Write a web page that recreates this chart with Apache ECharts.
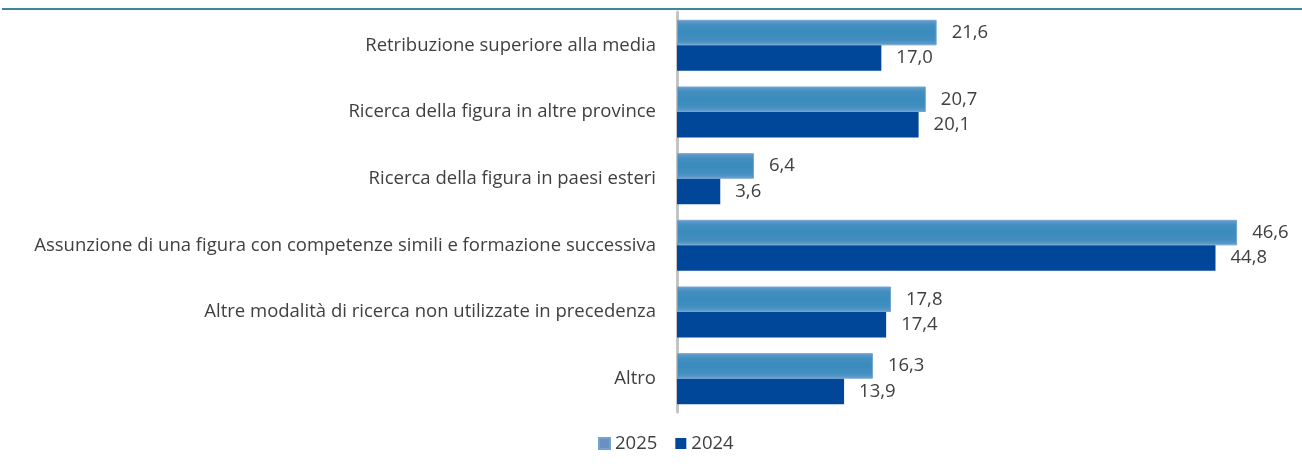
<!DOCTYPE html>
<html>
<head>
<meta charset="utf-8">
<script src="https://cdn.jsdelivr.net/npm/echarts@6/dist/echarts.min.js"></script>
<style>
  html, body { margin: 0; padding: 0; background: #ffffff; }
  #chart { width: 1302px; height: 464px; }
</style>
</head>
<body>
<div id="chart"></div>
<script>
// Modalità di ricerca del personale: quote percentuali per anno
const categories = [
  'Retribuzione superiore alla media',
  'Ricerca della figura in altre province',
  'Ricerca della figura in paesi esteri',
  'Assunzione di una figura con competenze simili e formazione successiva',
  'Altre modalità di ricerca non utilizzate in precedenza',
  'Altro'
];
const values2025 = [21.6, 20.7, 6.4, 46.6, 17.8, 16.3];
const values2024 = [17.0, 20.1, 3.6, 44.8, 17.4, 13.9];
const seriesNames = ['2025', '2024'];

const textColor = '#404040';
const fontFamily = '"Open Sans", "Noto Sans", sans-serif';
const fontSize = 18.5;

const fmt = v => v.toFixed(1).replace('.', ',');

const chart = echarts.init(document.getElementById('chart'), null, { renderer: 'canvas' });

const lightBar = new echarts.graphic.LinearGradient(0, 0, 0, 1, [
  { offset: 0, color: '#6a9fcf' },
  { offset: 0.2, color: '#428fc0' },
  { offset: 0.5, color: '#3a8bbd' },
  { offset: 0.8, color: '#428fc0' },
  { offset: 1, color: '#6a9fcf' }
]);

chart.setOption({
  animation: false,
  backgroundColor: '#ffffff',
  textStyle: { fontFamily: fontFamily },
  graphic: [{
    type: 'line',
    shape: { x1: 2, y1: 9, x2: 1302, y2: 9 },
    style: { stroke: '#3b8795', lineWidth: 2 }
  }],
  legend: {
    bottom: 6,
    left: 593,
    itemWidth: 11,
    itemHeight: 11,
    itemGap: 18,
    icon: 'rect',
    textStyle: { color: textColor, fontSize: fontSize, fontFamily: fontFamily },
    data: [
      { name: seriesNames[0], itemStyle: { color: '#6a8fc2' } },
      { name: seriesNames[1], itemStyle: { color: '#00479a' } }
    ]
  },
  grid: { left: 677, right: 24, top: 12, bottom: 52, containLabel: false },
  xAxis: {
    type: 'value',
    min: 0,
    max: 50,
    show: false
  },
  yAxis: {
    type: 'category',
    data: categories,
    inverse: true,
    offset: 2,
    axisLine: { show: true, lineStyle: { color: '#c4c4c4', width: 3 } },
    axisTick: { show: false },
    axisLabel: { color: textColor, fontSize: fontSize, margin: 19, fontFamily: fontFamily }
  },
  series: [
    {
      name: seriesNames[0],
      type: 'bar',
      data: values2025,
      barGap: '0%',
      barCategoryGap: '23.5%',
      itemStyle: { color: lightBar, borderColor: '#72a3d2', borderWidth: 1 },
      label: {
        show: true, position: 'right', distance: 15,
        color: textColor, fontSize: fontSize, fontFamily: fontFamily,
        formatter: p => fmt(p.value)
      }
    },
    {
      name: seriesNames[1],
      type: 'bar',
      data: values2024,
      barGap: '0%',
      barCategoryGap: '23.5%',
      itemStyle: { color: '#00479a' },
      label: {
        show: true, position: 'right', distance: 15,
        color: textColor, fontSize: fontSize, fontFamily: fontFamily,
        formatter: p => fmt(p.value)
      }
    }
  ]
});
</script>
</body>
</html>
